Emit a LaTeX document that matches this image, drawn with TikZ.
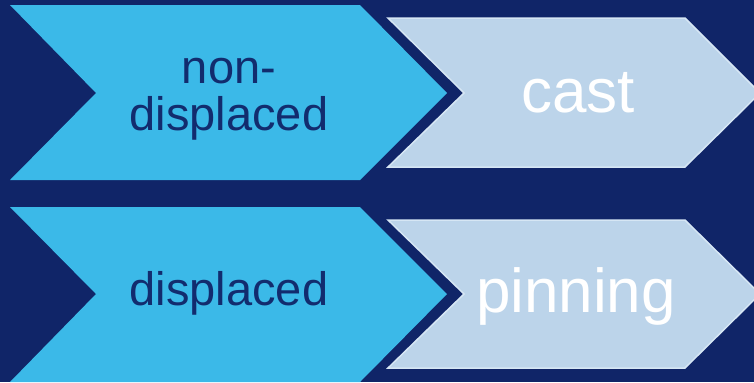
\documentclass[tikz,border=0pt]{standalone}
\usepackage{fontspec}
\setmainfont{Liberation Sans}
\definecolor{navy}{RGB}{16,37,104}
\definecolor{navytext}{RGB}{18,44,110}
\definecolor{brightblue}{RGB}{59,185,232}
\definecolor{paleblue}{RGB}{188,212,234}
\definecolor{paleedge}{RGB}{214,230,244}
\tikzset{
  stagebox/.style={fill=brightblue},
  resultbox/.style={fill=paleblue, draw=paleedge, line width=1.5bp, line join=miter},
  stagetext/.style={text=navytext, font=\fontsize{47bp}{47bp}\selectfont, anchor=base, inner sep=0pt},
  resulttext/.style={text=white, font=\fontsize{62bp}{62bp}\selectfont, anchor=base, inner sep=0pt}
}
\begin{document}
\begin{tikzpicture}[x=1bp,y=-1bp]
  % canvas
  \fill[navy] (0,0) rectangle (754,382);
  \useasboundingbox (0,0) rectangle (754,382);
  \clip (0,0) rectangle (754,382);

  % upper row
  \fill[stagebox] (10,5) -- (360,5) -- (447,93) -- (360,180) -- (10,180) -- (96,93) -- cycle;
  \draw[resultbox] (388,18) -- (685,18) -- (760,93) -- (685,167) -- (388,167) -- (464,93) -- cycle;
  \node[stagetext] (nondisp1) at (229,83) {non-};
  \node[stagetext] (nondisp2) at (229,130) {displaced};
  \node[resulttext] (cast) at (578,112) {cast};

  % lower row
  \fill[stagebox] (10,207) -- (360,207) -- (447,294) -- (360,382) -- (10,382) -- (96,294) -- cycle;
  \draw[resultbox] (388,220) -- (685,220) -- (760,294) -- (685,368) -- (388,368) -- (464,294) -- cycle;
  \node[stagetext] (disp) at (229,305) {displaced};
  \node[resulttext] (pinning) at (576,312) {pinning};
\end{tikzpicture}
\end{document}
